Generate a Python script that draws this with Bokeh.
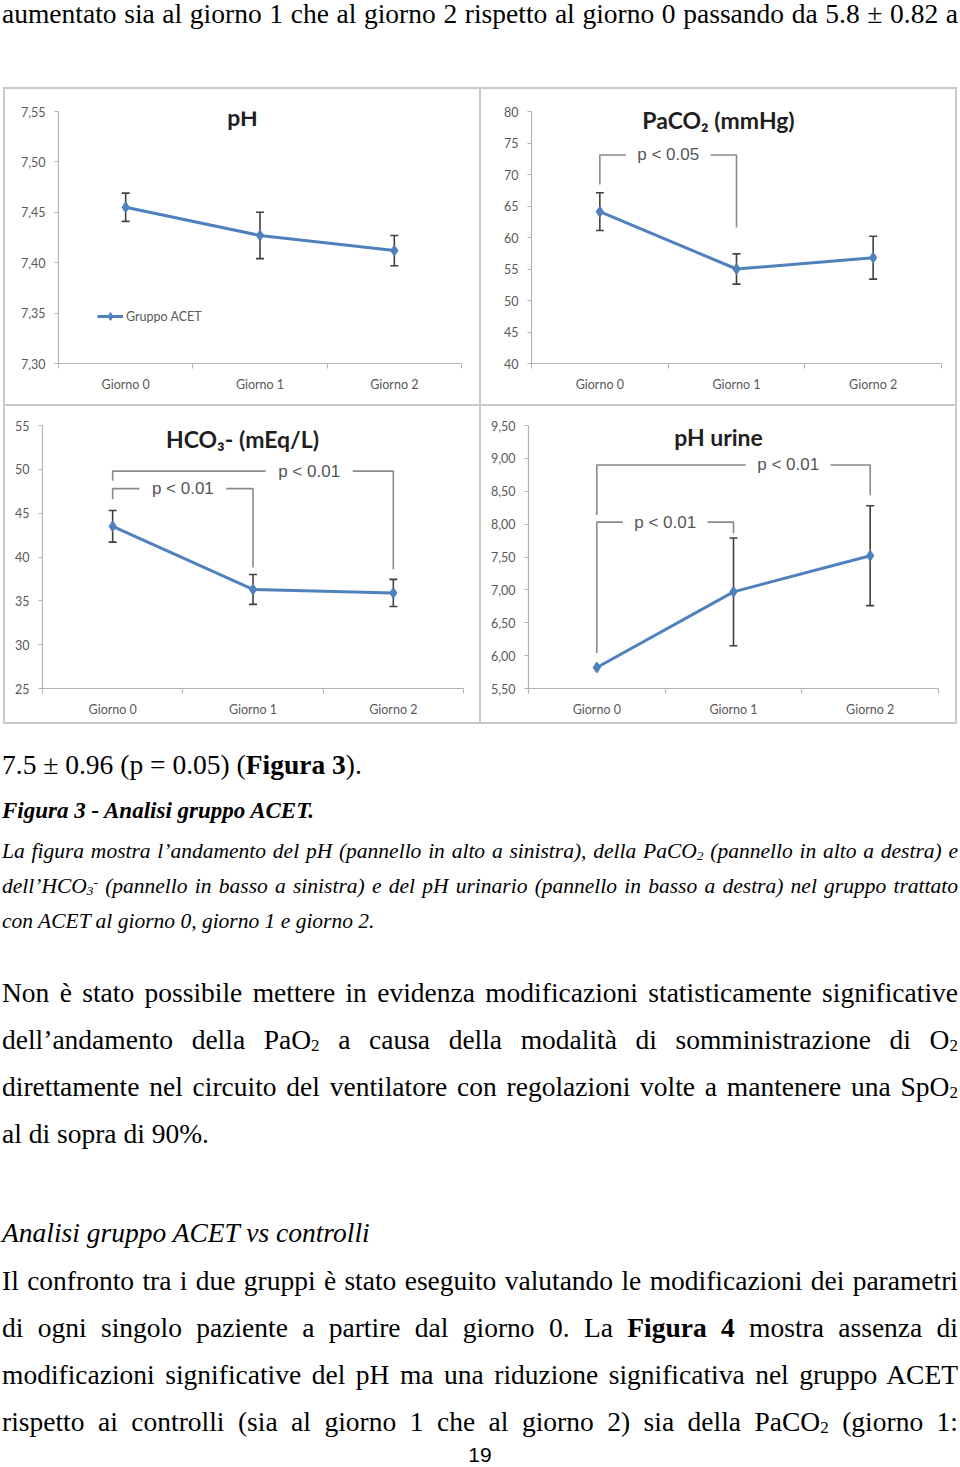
from bokeh.plotting import figure
from bokeh.models import (Range1d, FixedTicker, Whisker, TeeHead, ColumnDataSource,
                          Legend, LegendItem, Label, Div, Spacer)
from bokeh.layouts import column, row
from bokeh.embed import file_html
from bokeh.resources import INLINE
from bokeh.core.properties import value

# ---------------- data ----------------
days = ["Giorno 0", "Giorno 1", "Giorno 2"]

ph_mean = [7.455, 7.427, 7.412]
ph_err = [0.014, 0.023, 0.015]
ph_ticks = [7.30, 7.35, 7.40, 7.45, 7.50, 7.55]
ph_tick_labels = ["7,30", "7,35", "7,40", "7,45", "7,50", "7,55"]

paco2_mean = [64.1, 55.0, 56.8]
paco2_err = [3.0, 2.4, 3.4]
paco2_ticks = [40, 45, 50, 55, 60, 65, 70, 75, 80]
paco2_tick_labels = ["40", "45", "50", "55", "60", "65", "70", "75", "80"]

hco3_mean = [43.5, 36.3, 35.9]
hco3_err = [1.8, 1.7, 1.55]
hco3_ticks = [25, 30, 35, 40, 45, 50, 55]
hco3_tick_labels = ["25", "30", "35", "40", "45", "50", "55"]

urine_mean = [5.82, 6.97, 7.52]
urine_err = [0.0, 0.82, 0.76]
urine_ticks = [5.5, 6.0, 6.5, 7.0, 7.5, 8.0, 8.5, 9.0, 9.5]
urine_tick_labels = ["5,50", "6,00", "6,50", "7,00", "7,50", "8,00", "8,50", "9,00", "9,50"]

# significance brackets: (from day, to day, bar level, left end, right end, label, label position)
paco2_brackets = [(0, 1, 73.1, 68.4, 61.6, "p < 0.05", 0.5)]
hco3_brackets = [(0, 1, 47.8, 46.6, 38.8, "p < 0.01", 0.5),
                 (0, 2, 49.8, 48.7, 38.6, "p < 0.01", 0.7)]
urine_brackets = [(0, 1, 8.03, 6.04, 7.86, "p < 0.01", 0.5),
                  (0, 2, 8.90, 8.14, 8.44, "p < 0.01", 0.7)]

series_name = "Gruppo ACET"

# ---------------- styles ----------------
BLUE = "#4F81BD"
AXIS = "#b3b3b3"
TICKTXT = "#595959"
ERR = "#404040"
BRACKET = "#8a8a8a"
GRAY_BORDER = "#c9c9c9"


def make_panel(title, means, errs, ticks, tick_labels, brackets, w, h,
               bl, br, bt, bb, title_top, legend=False):
    xs = [i + 0.5 for i in range(len(days))]
    p = figure(width=w, height=h, output_backend="svg", toolbar_location=None,
               x_range=Range1d(0, len(days)), y_range=Range1d(ticks[0], ticks[-1]),
               min_border_left=bl, min_border_right=br, min_border_top=bt,
               min_border_bottom=bb)
    p.xgrid.visible = False
    p.ygrid.visible = False
    p.outline_line_color = None
    p.background_fill_color = "white"
    p.border_fill_color = "white"

    src = ColumnDataSource(dict(x=xs, y=means))
    wx = [x for x, e in zip(xs, errs) if e > 0]
    wu = [m + e for m, e in zip(means, errs) if e > 0]
    wl = [m - e for m, e in zip(means, errs) if e > 0]
    wsrc = ColumnDataSource(dict(x=wx, upper=wu, lower=wl))
    wh = Whisker(base="x", upper="upper", lower="lower", source=wsrc, dimension="height",
                 line_color=ERR, line_width=1.6,
                 upper_head=TeeHead(size=8, line_color=ERR, line_width=1.6),
                 lower_head=TeeHead(size=8, line_color=ERR, line_width=1.6))
    p.add_layout(wh)

    r_line = p.line("x", "y", source=src, line_color=BLUE, line_width=3)
    r_pt = p.scatter("x", "y", source=src, marker="diamond", size=11,
                     fill_color=BLUE, line_color=BLUE)

    # axes
    p.xaxis.ticker = FixedTicker(ticks=xs, minor_ticks=list(range(len(days) + 1)))
    p.xaxis.major_label_overrides = {x: d for x, d in zip(xs, days)}
    p.xaxis.major_tick_line_color = None
    p.xaxis.major_tick_out = 0
    p.xaxis.minor_tick_in = 0
    p.xaxis.minor_tick_out = 5
    p.xaxis.minor_tick_line_color = AXIS
    p.xaxis.major_label_standoff = 8

    p.yaxis.ticker = FixedTicker(ticks=ticks, minor_ticks=[])
    p.yaxis.major_label_overrides = {t: l for t, l in zip(ticks, tick_labels)}
    p.yaxis.major_tick_in = 0
    p.yaxis.major_tick_out = 4
    p.yaxis.major_tick_line_color = AXIS
    p.yaxis.minor_tick_line_color = None
    p.yaxis.major_label_standoff = 9

    for ax in (p.xaxis, p.yaxis):
        ax.axis_line_color = AXIS
        ax.axis_line_width = 1.2
        ax.major_label_text_font = "Lato"
        ax.major_label_text_font_size = "12.5px"
        ax.major_label_text_color = TICKTXT

    # significance brackets
    g = 0.31
    for (i0, i1, top, yl, yr, lab, frac) in brackets:
        x0, x1 = xs[i0], xs[i1]
        xc = x0 + frac * (x1 - x0)
        p.multi_line(xs=[[x0, x0, xc - g], [xc + g, x1, x1]],
                     ys=[[yl, top, top], [top, top, yr]],
                     line_color=BRACKET, line_width=1.6)
        p.text(x=[xc], y=[top], text=[lab], text_align="center", text_baseline="middle",
               text_font=value("Liberation Sans"), text_font_size="17px",
               text_color="#555555")

    # title (Excel-style, overlapping the plot area)
    frame_h = h - bt - bb
    p.add_layout(Label(x=w / 2 - bl, y=frame_h - (title_top - bt), x_units="screen",
                       y_units="screen", text=title, text_align="center",
                       text_baseline="middle", text_font="Lato", text_font_style="bold",
                       text_font_size="23px", text_color="#1f1f1f"))

    if legend:
        lg = Legend(items=[LegendItem(label=series_name, renderers=[r_line, r_pt])],
                    location=(39, 37), padding=0, margin=0, spacing=0,
                    border_line_color=None, background_fill_alpha=0,
                    glyph_width=26, glyph_height=20, label_height=20, label_standoff=3,
                    label_text_font="Lato", label_text_font_size="12.5px",
                    label_text_color=TICKTXT)
        p.add_layout(lg)
    return p


p1 = make_panel("pH", ph_mean, ph_err, ph_ticks, ph_tick_labels, [], 474, 315,
                53, 18, 21, 38, 30, legend=True)
p2 = make_panel("PaCO\u2082 (mmHg)", paco2_mean, paco2_err, paco2_ticks, paco2_tick_labels,
                paco2_brackets, 474, 315, 50, 14, 22, 41, 30)
p3 = make_panel("HCO\u2083- (mEq/L)", hco3_mean, hco3_err, hco3_ticks, hco3_tick_labels,
                hco3_brackets, 474, 316, 37, 16, 19, 34, 32)
p4 = make_panel("pH urine", urine_mean, urine_err, urine_ticks, urine_tick_labels,
                urine_brackets, 474, 316, 47, 17, 19, 33, 31)

# ---------------- page text ----------------
SERIF = "'Liberation Serif','Times New Roman',serif"
SUB = '<span style="font-size:0.62em;vertical-align:-0.12em;line-height:0">{}</span>'
SUP = '<span style="font-size:0.62em;vertical-align:0.45em;line-height:0">{}</span>'


def tline(center, html, size=27.5, justify=True, italic=False, bold=False,
          family=SERIF, align=None, lh=40):
    st = [f"position:absolute;left:2px;width:956px;top:{center - lh / 2}px;",
          f"height:{lh}px;line-height:{lh}px;font-family:{family};font-size:{size}px;",
          "color:#000;overflow:visible;white-space:normal;"]
    if align:
        st.append(f"text-align:{align};")
    elif justify:
        st.append("text-align:justify;text-align-last:justify;")
    else:
        st.append("text-align:left;")
    if italic:
        st.append("font-style:italic;")
    if bold:
        st.append("font-weight:bold;")
    return f'<div style="{"".join(st)}">{html}</div>'


def block(h, lines):
    return (f'<div style="position:relative;width:960px;height:{h}px;margin:0;padding:0;">'
            + "".join(lines) + "</div>")


top_html = block(87, [
    tline(14, "aumentato sia al giorno 1 che al giorno 2 rispetto al giorno 0 passando da 5.8 ± 0.82 a",
          lh=28),
])

bottom_lines = [
    tline(41, "7.5 ± 0.96 (p = 0.05) (<b>Figura 3</b>).", justify=False),
    tline(87, "Figura 3 - Analisi gruppo ACET.", size=23, justify=False, italic=True, bold=True),
    tline(127, "La figura mostra l’andamento del pH (pannello in alto a sinistra), della PaCO"
          + SUB.format("2") + " (pannello in alto a destra) e", size=21.5, italic=True),
    tline(162, "dell’HCO" + SUB.format("3") + SUP.format("-")
          + " (pannello in basso a sinistra) e del pH urinario (pannello in basso a destra) nel gruppo trattato",
          size=21.5, italic=True),
    tline(197, "con ACET al giorno 0, giorno 1 e giorno 2.", size=21.5, italic=True, justify=False),
    tline(269, "Non è stato possibile mettere in evidenza modificazioni statisticamente significative"),
    tline(316, "dell’andamento della PaO" + SUB.format("2")
          + " a causa della modalità di somministrazione di O" + SUB.format("2")),
    tline(363, "direttamente nel circuito del ventilatore con regolazioni volte a mantenere una SpO"
          + SUB.format("2")),
    tline(410, "al di sopra di 90%.", justify=False),
    tline(509, "Analisi gruppo ACET vs controlli", italic=True, justify=False),
    tline(557, "Il confronto tra i due gruppi è stato eseguito valutando le modificazioni dei parametri"),
    tline(604, "di ogni singolo paziente a partire dal giorno 0. La <b>Figura 4</b> mostra assenza di"),
    tline(651, "modificazioni significative del pH ma una riduzione significativa nel gruppo ACET"),
    tline(698, "rispetto ai controlli (sia al giorno 1 che al giorno 2) sia della PaCO"
          + SUB.format("2") + " (giorno 1:"),
    tline(731, "19", size=21, family="'Liberation Sans',Arial,sans-serif", align="center", lh=22),
]
bottom_html = block(743, bottom_lines)

top_div = Div(text=top_html, width=960, height=87, margin=0)
bottom_div = Div(text=bottom_html, width=960, height=743, margin=0)

GRAY = {"background-color": GRAY_BORDER}


def vbar(h):
    return Spacer(width=2, height=h, margin=0, styles=GRAY)


def hbar():
    return row(Spacer(width=3, height=2, margin=0),
               Spacer(width=954, height=2, margin=0, styles=GRAY),
               Spacer(width=3, height=2, margin=0))


row1 = row(Spacer(width=3, height=315, margin=0), vbar(315), p1, vbar(315), p2, vbar(315),
           Spacer(width=3, height=315, margin=0))
row2 = row(Spacer(width=3, height=316, margin=0), vbar(316), p3, vbar(316), p4, vbar(316),
           Spacer(width=3, height=316, margin=0))

page = column(top_div, hbar(), row1, hbar(), row2, hbar(), bottom_div)

with open("out.html", "w") as f:
    f.write(file_html(page, INLINE))
